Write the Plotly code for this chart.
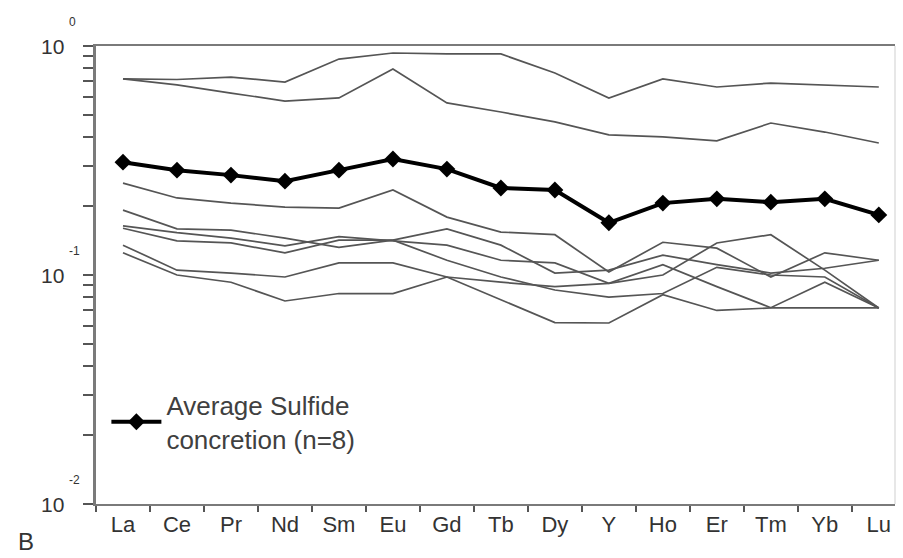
import plotly.graph_objects as go

elements = ["La", "Ce", "Pr", "Nd", "Sm", "Eu", "Gd", "Tb", "Dy", "Y", "Ho", "Er", "Tm", "Yb", "Lu"]

sample_1 = [0.718, 0.714, 0.732, 0.696, 0.877, 0.932, 0.923, 0.923, 0.762, 0.593, 0.718, 0.662, 0.689, 0.676, 0.662]
sample_2 = [0.718, 0.676, 0.623, 0.575, 0.593, 0.794, 0.564, 0.515, 0.466, 0.409, 0.401, 0.385, 0.461, 0.421, 0.377]
sample_3 = [0.252, 0.217, 0.206, 0.198, 0.196, 0.235, 0.179, 0.154, 0.150, 0.103, 0.139, 0.131, 0.098, 0.125, 0.116]
sample_4 = [0.192, 0.159, 0.157, 0.145, 0.132, 0.142, 0.159, 0.135, 0.102, 0.105, 0.122, 0.111, 0.102, 0.107, 0.116]
sample_5 = [0.164, 0.153, 0.145, 0.134, 0.147, 0.141, 0.135, 0.116, 0.113, 0.092, 0.111, 0.089, 0.072, 0.093, 0.0718]
sample_6 = [0.160, 0.141, 0.138, 0.125, 0.142, 0.142, 0.116, 0.098, 0.086, 0.080, 0.083, 0.108, 0.100, 0.098, 0.0718]
sample_7 = [0.135, 0.105, 0.102, 0.098, 0.113, 0.113, 0.098, 0.078, 0.062, 0.0617, 0.082, 0.070, 0.0718, 0.0718, 0.0718]
sample_8 = [0.125, 0.100, 0.093, 0.077, 0.083, 0.083, 0.098, 0.093, 0.089, 0.092, 0.100, 0.138, 0.150, 0.105, 0.0718]
samples = [sample_1, sample_2, sample_3, sample_4, sample_5, sample_6, sample_7, sample_8]

average = [0.311, 0.287, 0.273, 0.257, 0.287, 0.321, 0.290, 0.240, 0.235, 0.169, 0.206, 0.215, 0.208, 0.215, 0.183]
average_name = "Average Sulfide<br>concretion (n=8)"

ytick_exponents = [0, -1, -2]
ytick_base = "10"

x_idx = list(range(len(elements)))

fig = go.Figure()
for s in samples:
    fig.add_trace(go.Scatter(x=x_idx, y=s, mode="lines",
                             line=dict(color="#555555", width=1.7),
                             showlegend=False, hoverinfo="skip"))
fig.add_trace(go.Scatter(x=x_idx, y=average, mode="lines+markers", name=average_name,
                         line=dict(color="#000000", width=4),
                         marker=dict(symbol="diamond", size=13, color="#000000")))

minor_vals = [m * 10 ** e for e in (-2, -1) for m in range(1, 10)] + [1]

fig.update_layout(
    width=903, height=558,
    margin=dict(l=96, r=8, t=46, b=54),
    paper_bgcolor="white", plot_bgcolor="white",
    font=dict(family="Liberation Sans, Arial, sans-serif", color="#333333"),
    showlegend=True,
    legend=dict(x=0.013, y=0.179, xanchor="left", yanchor="middle",
                bgcolor="rgba(0,0,0,0)", font=dict(size=26, color="#404040"),
                itemwidth=50),
    xaxis=dict(range=[-0.5, 14.3], tickvals=x_idx, ticktext=elements,
               ticks="", showgrid=False, zeroline=False,
               showline=True, linecolor="#7a7a7a", linewidth=2, mirror=True,
               tickfont=dict(size=22, color="#333333"),
               minor=dict(ticks="outside", tick0=-0.5, dtick=1, ticklen=6,
                          tickcolor="#555555", tickwidth=1.5, showgrid=False)),
    yaxis=dict(type="log", range=[-2, 0], tickvals=minor_vals, showticklabels=False,
               ticks="outside", ticklen=10, tickcolor="#555555", tickwidth=2,
               showgrid=False, zeroline=False,
               showline=True, linecolor="#7a7a7a", linewidth=3),
)

fig.add_shape(type="line", xref="paper", yref="paper", x0=1, x1=1, y0=0, y1=1,
              line=dict(color="#cfcfcf", width=1))

for e in ytick_exponents:
    fig.add_annotation(x=0, xref="paper", y=e, yref="y", text=ytick_base,
                       xanchor="right", yanchor="middle", xshift=-30, showarrow=False,
                       font=dict(size=21, color="#333333"))
    fig.add_annotation(x=0, xref="paper", y=e, yref="y", text=str(e),
                       xanchor="left", yanchor="middle", xshift=-29, yshift=24, showarrow=False,
                       font=dict(size=12, color="#333333"))

fig.add_annotation(x=0, xref="paper", y=0, yref="paper", text="B",
                   xanchor="left", yanchor="middle", xshift=-80, yshift=-37, showarrow=False,
                   font=dict(size=24, color="#333333"))

fig.write_html("out.html")
